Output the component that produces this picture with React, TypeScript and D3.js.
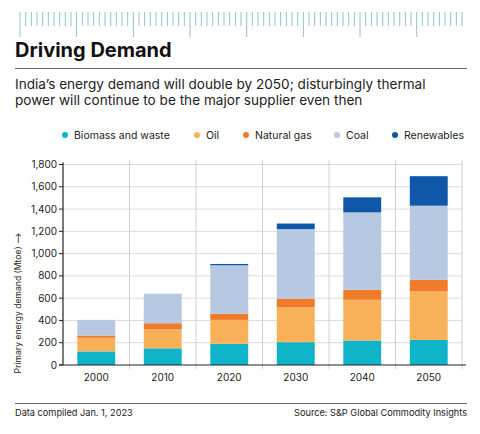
import * as d3 from 'd3';

const years = ['2000', '2010', '2020', '2030', '2040', '2050'];
const seriesKeys = ['Biomass and waste', 'Oil', 'Natural gas', 'Coal', 'Renewables'];
const seriesColors = ['#10b4c9', '#f8b158', '#ef7b2b', '#b6c8e2', '#0f57a8'];

// Mtoe per source
const biomass = [122, 150, 190, 205, 220, 225];
const oil = [122, 170, 215, 315, 365, 435];
const naturalGas = [20, 55, 55, 75, 90, 105];
const coal = [141, 265, 435, 625, 695, 665];
const renewables = [0, 0, 12, 50, 135, 265];

const yTicks = [0, 200, 400, 600, 800, 1000, 1200, 1400, 1600, 1800];

const W = 480;
const H = 434;
const M = { top: 164.5, right: 18, bottom: 69, left: 63 };
const FONT = 'Inter, "Noto Sans", sans-serif';

export default function App() {
  const rows = years.map((y, i) => ({
    year: y,
    'Biomass and waste': biomass[i],
    Oil: oil[i],
    'Natural gas': naturalGas[i],
    Coal: coal[i],
    Renewables: renewables[i],
  }));
  const stacked = d3.stack<any>().keys(seriesKeys)(rows);

  const x = d3
    .scaleBand<string>()
    .domain(years)
    .range([M.left, W - M.right])
    .paddingInner(0)
    .paddingOuter(0);
  const barW = x.bandwidth() * 0.57;

  const y = d3
    .scaleLinear()
    .domain([0, 1800])
    .range([H - M.bottom, M.top]);

  // top ruler decoration
  const rulerStep = 56.67 / 10;
  const ruler = d3.range(-11, 72).map(i => ({
    x: 76.67 + i * rulerStep,
    long: ((i % 10) + 10) % 10 === 0,
  })).filter(t => t.x >= 14.5 && t.x <= 467.5);

  const legendX = [65, 197, 246, 337, 395];

  return (
    <svg
      width={W}
      height={H}
      style={{ position: 'absolute', left: 0, top: 0, background: '#fff' }}
      fontFamily={FONT}
    >
      {ruler.map((t, i) => (
        <line
          key={`r-${i}`}
          x1={t.x}
          x2={t.x}
          y1={12}
          y2={t.long ? 37 : 26}
          stroke="#8ec3cf"
          strokeWidth={1}
        />
      ))}

      <text x={15} y={57} fontSize={20} fontWeight={700} fill="#111">
        Driving Demand
      </text>
      <line x1={15} x2={467} y1={68.5} y2={68.5} stroke="#666" strokeWidth={1} />
      <text x={15} y={89} fontSize={13.6} fill="#222">
        India’s energy demand will double by 2050; disturbingly thermal
      </text>
      <text x={15} y={105} fontSize={13.6} fill="#222">
        power will continue to be the major supplier even then
      </text>

      {/* legend */}
      {seriesKeys.map((k, i) => (
        <g key={`lg-${k}`}>
          <circle cx={legendX[i]} cy={135} r={3} fill={seriesColors[i]} />
          <text x={legendX[i] + 9} y={139} fontSize={10.5} fill="#222">
            {k}
          </text>
        </g>
      ))}

      {/* grid */}
      {yTicks.slice(1).map(t => (
        <line
          key={`gy-${t}`}
          x1={M.left}
          x2={W - M.right}
          y1={y(t)}
          y2={y(t)}
          stroke="#dcdcdc"
          strokeWidth={1}
        />
      ))}
      {years.map(yr => (
        <line
          key={`gx-${yr}`}
          x1={(x(yr) ?? 0) + x.bandwidth()}
          x2={(x(yr) ?? 0) + x.bandwidth()}
          y1={M.top - 4}
          y2={H - M.bottom + 4}
          stroke="#d0d0d0"
          strokeWidth={1}
        />
      ))}

      {/* bars */}
      {stacked.map((s, si) => (
        <g key={`s-${s.key}`} fill={seriesColors[si]}>
          {s.map((d, i) => {
            const h = y(d[0]) - y(d[1]);
            if (h <= 0) return null;
            return (
              <rect
                key={`b-${i}`}
                x={(x(years[i]) ?? 0) + (x.bandwidth() - barW) / 2}
                y={y(d[1])}
                width={barW}
                height={h}
              />
            );
          })}
        </g>
      ))}

      {/* axes */}
      <line x1={M.left} x2={M.left} y1={M.top - 2} y2={H - M.bottom} stroke="#222" strokeWidth={1.2} />
      <line x1={M.left - 4} x2={W - M.right + 4} y1={H - M.bottom} y2={H - M.bottom} stroke="#222" strokeWidth={1.2} />
      {yTicks.map(t => (
        <g key={`ty-${t}`}>
          <line x1={M.left - 4} x2={M.left} y1={y(t)} y2={y(t)} stroke="#222" strokeWidth={1} />
          <text
            x={M.left - 6}
            y={y(t)}
            dy="0.35em"
            textAnchor="end"
            fontSize={10}
            fill="#222"
          >
            {d3.format(',')(t)}
          </text>
        </g>
      ))}
      {years.map(yr => (
        <text
          key={`tx-${yr}`}
          x={(x(yr) ?? 0) + x.bandwidth() / 2}
          y={H - M.bottom + 16}
          textAnchor="middle"
          fontSize={10}
          fill="#222"
        >
          {yr}
        </text>
      ))}
      <text
        transform={`translate(21, ${303}) rotate(-90)`}
        textAnchor="middle"
        fontSize={8.6}
        fill="#222"
      >
        Primary energy demand (Mtoe) ⟶
      </text>

      {/* footer */}
      <line x1={15} x2={467} y1={403.5} y2={403.5} stroke="#666" strokeWidth={1} />
      <text x={15} y={416} fontSize={9.2} fill="#222">
        Data compiled Jan. 1, 2023
      </text>
      <text x={467} y={416} fontSize={9.2} fill="#222" textAnchor="end">
        Source: S&amp;P Global Commodity Insights
      </text>
    </svg>
  );
}
